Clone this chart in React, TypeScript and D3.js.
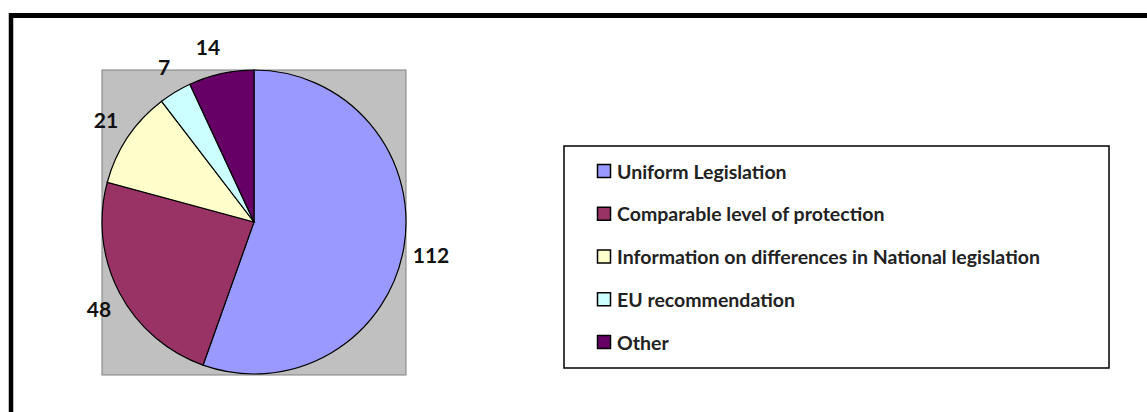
import React from "react";
import * as d3 from "d3";

const categories = [
  "Uniform Legislation",
  "Comparable level of protection",
  "Information on differences in National legislation",
  "EU recommendation",
  "Other",
];
const values = [112, 48, 21, 7, 14];
const colors = ["#9999FF", "#993366", "#FFFFCC", "#CCFFFF", "#660066"];
// label anchor positions (manual placement as in the original)
const labelPos: [number, number][] = [
  [431, 254],
  [99, 308],
  [106, 119],
  [164, 66],
  [208, 46],
];

export default function App() {
  const W = 1147, H = 412;
  const cx = 254, cy = 222, r = 152;
  const pie = d3.pie<number>().sort(null).value((d) => d)(values);
  const arc = d3.arc<d3.PieArcDatum<number>>().innerRadius(0).outerRadius(r);
  const legendY = d3.scalePoint<number>().domain(d3.range(categories.length)).range([171, 342]);

  return (
    <svg width={W} height={H} style={{ position: "absolute", left: 0, top: 0, background: "#fff" }}>
      {/* outer frame */}
      <line x1={11} y1={15.5} x2={W} y2={15.5} stroke="#000" strokeWidth={5} />
      <line x1={11} y1={13} x2={11} y2={H} stroke="#000" strokeWidth={4.5} />
      {/* plot area */}
      <rect x={102} y={70} width={304} height={305} fill="#C0C0C0" stroke="#808080" strokeWidth={1} />
      <g transform={`translate(${cx},${cy})`}>
        {pie.map((p, i) => (
          <path key={i} d={arc(p) || ""} fill={colors[i]} stroke="#000" strokeWidth={1.2} />
        ))}
      </g>
      {values.map((v, i) => (
        <text
          key={i}
          x={labelPos[i][0]}
          y={labelPos[i][1]}
          textAnchor="middle"
          dominantBaseline="central"
          fontFamily="Lato, sans-serif"
          fontWeight={700}
          fontSize={21}
          fill="#111"
        >
          {v}
        </text>
      ))}
      {/* legend */}
      <rect x={564} y={146} width={545} height={222} fill="#fff" stroke="#000" strokeWidth={1.5} />
      {categories.map((c, i) => (
        <g key={c} transform={`translate(597,${legendY(i)})`}>
          <rect x={0.5} y={-6.5} width={13} height={13} fill={colors[i]} stroke="#000" strokeWidth={1.5} />
          <text
            x={20}
            y={0}
            dominantBaseline="central"
            fontFamily="Lato, sans-serif"
            fontWeight={700}
            fontSize={19.5}
            fill="#222"
          >
            {c}
          </text>
        </g>
      ))}
    </svg>
  );
}
